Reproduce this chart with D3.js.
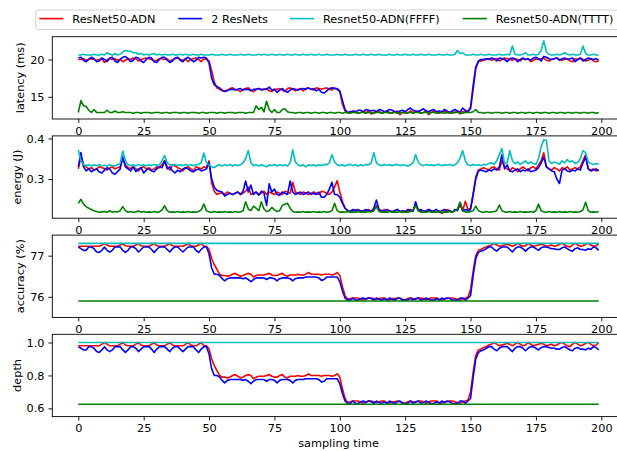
<!DOCTYPE html>
<html><head><meta charset="utf-8">
<script src="https://cdn.jsdelivr.net/npm/d3@7"></script>
<style>
body{margin:0;background:#fff}
svg{display:block}
text{font-family:"DejaVu Sans",sans-serif;fill:#000}
</style>
</head><body>
<svg id="chart" width="617" height="451"></svg>
<script>
const samples = d3.range(200);
const seriesNames = ["ResNet50-ADN","2 ResNets","Resnet50-ADN(FFFF)","Resnet50-ADN(TTTT)"];
const seriesColors = ["#ff0000","#0000ff","#00bfbf","#008000"];
const xTicks = [0,25,50,75,100,125,150,175,200];
const xLabel = "sampling time";

// ---- latency (ms) ----
const latRed = [
20.0,20.0,20.1,19.9,20.0,20.1,20.0,19.9,20.0,20.1, 19.6,20.0,20.1,20.0,20.1,19.9,20.0,19.7,19.9,20.1,
20.0,20.2,20.1,19.8,20.0,20.1,20.2,20.1,20.0,19.8, 19.9,20.1,20.1,20.0,20.1,19.7,20.0,20.1,20.2,20.0,
19.9,20.1,19.7,20.0,20.1,20.2,20.0,19.7,20.1,20.0, 19.8,18.5,17.0,16.2,16.0,15.8,15.8,15.9,16.1,16.2,
16.0,15.9,15.7,16.0,16.1,16.2,15.9,15.7,16.0,16.1, 16.0,16.0,16.1,15.8,15.7,16.0,16.0,16.1,15.9,15.7,
16.1,16.2,16.0,15.8,16.0,16.1,15.8,16.1,16.2,16.0, 15.9,16.2,16.1,16.0,16.1,16.2,16.0,15.9,16.2,16.0,
15.7,14.0,13.1,12.8,12.9,13.0,13.1,12.8,12.9,13.0, 12.9,13.1,12.7,12.9,13.0,13.1,12.8,12.9,13.1,12.9,
12.8,13.0,13.1,12.6,12.9,13.0,12.8,13.1,12.9,13.0, 13.1,12.8,12.9,13.2,12.6,12.9,13.1,13.0,12.8,12.9,
13.1,12.9,12.8,13.0,12.9,13.1,12.7,13.0,13.1,13.0, 13.4,16.0,18.8,19.7,19.8,19.9,20.0,20.1,19.9,20.0,
20.1,19.8,20.0,20.2,20.1,20.0,19.9,20.1,20.0,19.8, 20.1,20.0,20.1,19.7,19.9,20.1,20.0,20.1,20.2,19.9,
19.8,20.0,20.1,20.2,20.0,19.9,20.0,20.1,19.8,19.7, 20.1,20.0,20.2,20.0,19.8,19.9,20.1,19.8,19.7,19.8];
const latBlue = [
20.2,20.3,19.9,19.7,20.0,20.3,20.1,19.7,19.8,20.2, 20.0,19.7,20.2,20.3,19.8,19.6,20.0,20.3,20.4,20.1,
19.7,19.9,20.3,20.2,19.8,19.6,20.0,20.3,20.2,19.7, 19.6,20.0,20.3,20.3,19.9,19.6,19.8,20.2,20.3,19.9,
19.7,20.1,20.3,20.0,19.7,19.9,20.3,20.2,20.3,20.2, 19.5,17.5,16.6,16.4,16.2,15.9,15.7,15.8,16.0,16.0,
15.9,16.0,16.1,15.9,16.0,16.0,15.8,16.0,16.0,16.1, 15.9,16.0,16.0,16.3,15.9,16.0,15.6,15.9,16.1,15.8,
15.6,15.9,16.1,16.0,15.9,16.0,16.1,16.0,16.2,16.0, 16.1,15.8,16.0,15.6,15.5,15.8,16.1,16.2,16.1,16.1,
15.8,14.5,13.3,12.9,13.0,13.1,12.9,13.2,13.2,13.0, 13.3,13.2,13.1,13.2,13.0,13.3,13.2,13.0,13.1,13.3,
13.2,13.0,12.9,13.1,13.2,13.0,13.3,13.5,13.2,13.1, 13.0,13.2,13.4,13.1,13.0,13.2,13.3,13.0,13.1,13.0,
13.3,13.1,12.9,13.1,13.3,13.1,12.9,13.5,13.2,13.0, 13.6,16.5,19.0,19.8,20.0,20.0,20.1,20.0,20.2,20.1,
19.8,20.2,20.1,20.0,19.7,20.1,20.2,20.1,19.7,20.0, 20.2,20.0,20.1,19.9,20.2,20.3,20.1,19.8,20.4,20.3,
20.1,20.0,20.1,20.2,19.9,20.1,20.2,20.0,20.1,20.2, 19.7,20.0,20.2,19.8,20.0,20.2,20.1,20.0,20.1,19.9];
const latFFFF = [
20.6,20.6,20.7,20.6,20.6,20.6,20.7,20.6,20.6,20.7, 20.6,20.9,20.7,20.6,20.8,20.6,20.7,21.0,21.2,21.1,
21.1,20.9,20.9,20.7,20.8,20.6,20.7,20.6,20.7,20.8, 20.6,20.7,20.6,20.7,20.6,20.6,20.7,20.6,20.6,20.7,
20.6,20.7,20.6,20.6,20.7,20.6,20.6,20.7,20.6,20.6, 20.6,20.7,20.6,20.6,20.6,20.7,20.6,20.6,20.7,20.6,
20.6,20.6,20.7,20.6,20.6,20.7,20.6,20.6,20.6,20.7, 20.6,20.7,20.6,20.6,20.7,20.6,20.6,20.7,20.6,20.6,
20.7,20.6,20.6,20.7,20.6,20.6,20.7,20.6,20.6,20.7, 20.6,20.6,20.7,20.6,20.6,20.7,20.6,20.6,20.6,20.7,
20.6,20.6,20.7,20.6,20.6,20.6,20.7,20.6,20.6,20.7, 20.6,20.6,20.7,20.6,20.6,20.7,20.6,20.6,20.6,20.7,
20.6,20.6,20.7,20.6,20.6,20.7,20.6,20.6,20.7,20.6, 20.6,20.7,20.6,20.6,20.7,20.6,20.6,20.6,20.7,20.6,
20.6,20.7,20.6,20.6,20.7,21.2,20.8,20.9,20.6,20.6, 20.6,20.7,20.6,20.6,20.7,20.6,20.6,20.7,20.6,20.6,
20.6,20.7,20.6,20.6,20.7,20.6,21.8,20.7,20.6,20.6, 20.7,20.9,20.6,20.6,20.7,20.6,20.7,21.2,22.5,21.0,
20.7,20.6,20.6,20.7,20.6,20.7,20.9,20.7,20.6,20.7, 20.6,20.6,20.7,21.8,20.8,20.6,20.6,20.7,20.6,20.6];
const latTTTT = [
12.9,14.5,13.8,13.7,13.2,12.9,13.3,12.9,12.9,12.9, 12.9,13.2,12.9,12.9,13.1,12.9,12.9,13.0,12.9,12.9,
12.9,12.8,12.9,12.9,12.8,12.9,12.9,12.9,12.8,12.9, 12.9,12.9,12.8,12.9,12.9,12.8,12.9,12.9,12.9,12.8,
12.9,12.9,12.8,12.9,12.9,12.9,12.8,12.9,12.9,12.8, 12.9,12.9,12.9,12.8,12.9,12.9,12.8,12.9,12.9,12.9,
12.8,12.9,12.9,12.9,12.8,12.9,12.9,12.9,13.8,13.3, 13.6,13.0,14.4,13.3,12.9,13.3,12.9,12.9,13.3,13.4,
13.0,12.9,12.9,12.8,12.9,12.9,12.8,12.9,12.9,12.8, 12.9,12.9,12.8,12.9,12.9,12.8,12.9,12.9,12.8,12.9,
12.9,12.8,12.9,12.9,12.8,12.9,12.9,12.8,12.9,12.9, 12.8,12.9,12.9,12.8,12.9,12.9,12.8,12.9,12.9,12.8,
12.9,12.9,12.8,12.9,12.9,12.8,12.9,12.9,12.8,12.9, 12.9,12.8,12.9,12.9,12.8,12.9,12.9,12.8,12.9,12.9,
12.8,12.9,12.9,12.8,12.9,12.9,12.9,12.8,12.9,12.9, 12.9,13.0,13.3,12.9,12.9,12.8,12.9,12.9,12.8,12.9,
12.9,12.9,12.8,12.9,12.9,12.8,12.9,12.9,12.8,12.9, 12.9,12.8,12.9,12.9,12.8,12.9,12.9,12.8,12.9,12.9,
12.8,12.9,12.9,12.8,12.9,12.9,12.8,12.9,12.9,12.8, 12.9,12.9,12.8,12.9,12.9,12.8,12.9,12.9,12.8,12.9];

// ---- energy (J) ----
const enRed = [
0.325,0.355,0.335,0.330,0.325,0.328,0.322,0.325,0.330,0.328, 0.326,0.322,0.327,0.330,0.325,0.328,0.330,0.350,0.335,0.328,
0.326,0.330,0.325,0.320,0.327,0.330,0.325,0.328,0.322,0.325, 0.330,0.328,0.335,0.345,0.330,0.322,0.335,0.332,0.328,0.325,
0.320,0.328,0.330,0.325,0.320,0.330,0.328,0.325,0.330,0.328, 0.345,0.290,0.270,0.262,0.265,0.265,0.262,0.268,0.265,0.262,
0.265,0.268,0.262,0.265,0.270,0.280,0.262,0.265,0.268,0.262, 0.265,0.270,0.262,0.268,0.265,0.262,0.268,0.265,0.262,0.270,
0.268,0.265,0.292,0.268,0.265,0.262,0.268,0.265,0.262,0.265, 0.268,0.265,0.262,0.270,0.268,0.265,0.262,0.268,0.280,0.296,
0.268,0.245,0.228,0.222,0.220,0.222,0.225,0.220,0.222,0.218, 0.222,0.225,0.220,0.222,0.235,0.222,0.220,0.225,0.218,0.222,
0.220,0.222,0.225,0.220,0.218,0.222,0.220,0.225,0.222,0.238, 0.225,0.220,0.222,0.218,0.225,0.222,0.220,0.218,0.222,0.215,
0.220,0.225,0.222,0.218,0.222,0.225,0.235,0.222,0.245,0.225, 0.228,0.265,0.305,0.322,0.325,0.328,0.325,0.322,0.328,0.330,
0.325,0.322,0.345,0.330,0.325,0.320,0.328,0.325,0.318,0.325, 0.330,0.325,0.320,0.328,0.330,0.325,0.335,0.345,0.365,0.330,
0.325,0.322,0.328,0.325,0.320,0.328,0.325,0.330,0.322,0.325, 0.328,0.325,0.330,0.345,0.360,0.325,0.322,0.325,0.320,0.322];
const enBlue = [
0.330,0.365,0.330,0.320,0.325,0.318,0.322,0.325,0.318,0.315, 0.322,0.328,0.325,0.315,0.312,0.318,0.325,0.355,0.330,0.325,
0.320,0.330,0.318,0.325,0.328,0.315,0.322,0.325,0.320,0.318, 0.325,0.330,0.328,0.345,0.325,0.330,0.320,0.315,0.322,0.318,
0.325,0.328,0.325,0.320,0.318,0.322,0.325,0.320,0.322,0.325, 0.340,0.300,0.280,0.272,0.270,0.268,0.258,0.262,0.265,0.262,
0.265,0.268,0.262,0.270,0.295,0.268,0.285,0.262,0.268,0.260, 0.270,0.265,0.235,0.288,0.268,0.275,0.262,0.260,0.268,0.265,
0.262,0.295,0.268,0.262,0.265,0.268,0.262,0.265,0.268,0.262, 0.265,0.262,0.268,0.255,0.255,0.262,0.275,0.292,0.262,0.262,
0.255,0.240,0.228,0.222,0.220,0.225,0.222,0.225,0.220,0.222, 0.225,0.222,0.220,0.228,0.248,0.225,0.222,0.220,0.225,0.222,
0.218,0.222,0.225,0.220,0.222,0.218,0.225,0.222,0.220,0.244, 0.222,0.225,0.220,0.222,0.225,0.220,0.222,0.225,0.218,0.222,
0.225,0.220,0.222,0.218,0.225,0.222,0.242,0.222,0.225,0.222, 0.225,0.260,0.300,0.320,0.322,0.320,0.318,0.322,0.320,0.325,
0.322,0.330,0.360,0.325,0.335,0.320,0.318,0.322,0.325,0.318, 0.322,0.320,0.325,0.318,0.320,0.322,0.328,0.340,0.354,0.330,
0.325,0.320,0.318,0.300,0.289,0.322,0.325,0.320,0.318,0.322, 0.320,0.325,0.322,0.340,0.354,0.325,0.320,0.322,0.325,0.320];
const enFFFF = [
0.372,0.345,0.335,0.333,0.335,0.332,0.335,0.333,0.335,0.332, 0.334,0.332,0.335,0.333,0.332,0.335,0.338,0.369,0.345,0.335,
0.333,0.335,0.332,0.336,0.333,0.335,0.332,0.335,0.333,0.336, 0.334,0.335,0.345,0.358,0.340,0.335,0.333,0.336,0.334,0.335,
0.333,0.336,0.334,0.335,0.333,0.335,0.336,0.340,0.364,0.340, 0.335,0.330,0.328,0.333,0.335,0.332,0.335,0.333,0.336,0.332,
0.335,0.333,0.335,0.340,0.350,0.370,0.340,0.333,0.335,0.332, 0.335,0.333,0.330,0.335,0.333,0.336,0.332,0.335,0.333,0.335,
0.332,0.340,0.372,0.342,0.335,0.332,0.335,0.330,0.335,0.333, 0.335,0.332,0.335,0.333,0.336,0.335,0.340,0.360,0.342,0.335,
0.333,0.335,0.332,0.335,0.336,0.333,0.335,0.332,0.335,0.333, 0.336,0.335,0.340,0.365,0.340,0.335,0.333,0.336,0.334,0.335,
0.333,0.335,0.336,0.333,0.335,0.334,0.332,0.335,0.340,0.360, 0.342,0.335,0.333,0.336,0.334,0.335,0.333,0.335,0.336,0.333,
0.335,0.334,0.336,0.333,0.335,0.340,0.352,0.370,0.345,0.335, 0.333,0.336,0.334,0.335,0.333,0.336,0.335,0.338,0.340,0.336,
0.345,0.360,0.375,0.338,0.340,0.370,0.345,0.338,0.342,0.336, 0.340,0.345,0.338,0.342,0.338,0.336,0.350,0.380,0.397,0.395,
0.345,0.338,0.342,0.340,0.336,0.345,0.340,0.348,0.342,0.345, 0.338,0.342,0.350,0.370,0.365,0.342,0.338,0.336,0.338,0.337];
const enTTTT = [
0.240,0.250,0.238,0.232,0.228,0.225,0.222,0.220,0.218,0.219, 0.220,0.218,0.222,0.218,0.220,0.219,0.222,0.232,0.222,0.218,
0.220,0.218,0.219,0.221,0.218,0.220,0.218,0.219,0.218,0.220, 0.218,0.219,0.224,0.234,0.222,0.218,0.219,0.218,0.220,0.218,
0.219,0.218,0.220,0.218,0.219,0.218,0.220,0.224,0.238,0.222, 0.219,0.218,0.220,0.218,0.219,0.218,0.220,0.218,0.219,0.218,
0.220,0.218,0.219,0.222,0.244,0.226,0.222,0.233,0.228,0.222, 0.244,0.226,0.220,0.222,0.230,0.224,0.220,0.222,0.235,0.238,
0.240,0.228,0.220,0.218,0.219,0.218,0.220,0.218,0.219,0.218, 0.220,0.218,0.219,0.218,0.220,0.218,0.219,0.222,0.240,0.222,
0.218,0.219,0.218,0.220,0.218,0.219,0.218,0.220,0.218,0.219, 0.218,0.220,0.219,0.222,0.232,0.220,0.218,0.219,0.218,0.220,
0.218,0.219,0.218,0.220,0.218,0.219,0.218,0.220,0.224,0.234, 0.222,0.218,0.219,0.218,0.220,0.218,0.219,0.218,0.220,0.218,
0.219,0.218,0.220,0.218,0.222,0.226,0.243,0.222,0.219,0.218, 0.220,0.222,0.233,0.222,0.219,0.218,0.220,0.218,0.219,0.220,
0.222,0.236,0.222,0.219,0.218,0.220,0.218,0.219,0.218,0.220, 0.218,0.219,0.218,0.220,0.218,0.222,0.238,0.222,0.219,0.218,
0.220,0.218,0.219,0.218,0.220,0.218,0.219,0.218,0.220,0.218, 0.219,0.218,0.220,0.224,0.243,0.222,0.218,0.219,0.218,0.220];

// ---- accuracy (%) ----
const accRed = [
77.23,77.23,77.23,77.23,77.23,77.23,77.23,77.23,77.23,77.26, 77.30,77.26,77.23,77.23,77.23,77.23,77.26,77.30,77.24,77.23,
77.23,77.23,77.26,77.30,77.24,77.23,77.23,77.23,77.26,77.30, 77.24,77.23,77.23,77.23,77.26,77.30,77.24,77.23,77.23,77.23,
77.23,77.26,77.30,77.24,77.23,77.23,77.26,77.30,77.23,77.23, 77.15,76.93,76.78,76.67,76.55,76.52,76.52,76.50,76.52,76.55,
76.57,76.53,76.50,76.52,76.55,76.57,76.55,76.48,76.52,76.53, 76.53,76.53,76.55,76.57,76.53,76.52,76.52,76.55,76.57,76.52,
76.50,76.53,76.53,76.53,76.55,76.53,76.53,76.55,76.59,76.55, 76.55,76.55,76.55,76.53,76.55,76.55,76.55,76.53,76.55,76.59,
76.52,76.25,76.03,75.94,75.96,75.97,75.97,75.97,75.94,75.92, 75.96,75.97,75.97,75.96,75.94,75.96,75.97,75.97,75.94,75.92,
75.96,75.96,75.97,75.96,75.94,75.92,75.96,75.97,75.96,75.94, 75.97,75.97,75.96,75.92,75.96,75.97,75.97,75.97,75.94,75.92,
75.96,75.96,75.97,75.97,75.96,75.94,75.92,75.96,75.97,75.99, 76.18,76.63,77.00,77.13,77.15,77.19,77.21,77.24,77.26,77.30,
77.26,77.23,77.24,77.26,77.28,77.26,77.23,77.26,77.30,77.26, 77.23,77.24,77.30,77.26,77.23,77.24,77.26,77.28,77.26,77.23,
77.24,77.26,77.23,77.24,77.28,77.30,77.26,77.23,77.21,77.26, 77.30,77.26,77.23,77.24,77.28,77.30,77.26,77.23,77.24,77.30];
const accBlue = [
77.21,77.17,77.13,77.13,77.21,77.21,77.17,77.09,77.08,77.13, 77.21,77.13,77.09,77.13,77.21,77.21,77.21,77.13,77.08,77.13,
77.21,77.21,77.17,77.09,77.15,77.21,77.21,77.21,77.15,77.08, 77.15,77.21,77.21,77.21,77.15,77.09,77.17,77.21,77.21,77.15,
77.09,77.15,77.21,77.21,77.21,77.13,77.08,77.15,77.21,77.21, 77.04,76.70,76.55,76.55,76.52,76.44,76.39,76.44,76.46,76.46,
76.46,76.46,76.46,76.44,76.46,76.42,76.37,76.42,76.46,76.46, 76.46,76.46,76.42,76.46,76.46,76.44,76.39,76.44,76.46,76.46,
76.46,76.44,76.39,76.44,76.46,76.46,76.46,76.48,76.48,76.48, 76.48,76.48,76.46,76.40,76.42,76.48,76.48,76.48,76.48,76.48,
76.37,76.14,75.97,75.92,75.92,75.97,75.92,75.92,75.96,75.97, 75.94,75.97,75.96,75.92,75.97,75.94,75.92,75.96,75.92,75.97,
75.94,75.92,75.96,75.97,75.92,75.92,75.92,75.97,75.92,75.96, 75.97,75.92,75.94,75.97,75.94,75.92,75.92,75.96,75.92,75.97,
75.94,75.97,75.96,75.92,75.92,75.92,75.97,75.97,75.92,75.97, 76.03,76.52,76.93,77.08,77.11,77.13,77.17,77.21,77.21,77.15,
77.11,77.17,77.21,77.21,77.21,77.15,77.09,77.17,77.21,77.21, 77.17,77.11,77.17,77.21,77.21,77.17,77.13,77.19,77.21,77.21,
77.19,77.17,77.17,77.15,77.15,77.19,77.21,77.17,77.13,77.11, 77.17,77.19,77.15,77.15,77.13,77.17,77.15,77.21,77.19,77.13];
const accFFFF = [
77.3,77.3,77.3,77.3,77.3,77.3,77.3,77.3,77.3,77.3, 77.3,77.3,77.3,77.3,77.3,77.3,77.3,77.3,77.3,77.3,
77.3,77.3,77.3,77.3,77.3,77.3,77.3,77.3,77.3,77.3, 77.3,77.3,77.3,77.3,77.3,77.3,77.3,77.3,77.3,77.3,
77.3,77.3,77.3,77.3,77.3,77.3,77.3,77.3,77.3,77.3, 77.3,77.3,77.3,77.3,77.3,77.3,77.3,77.3,77.3,77.3,
77.3,77.3,77.3,77.3,77.3,77.3,77.3,77.3,77.3,77.3, 77.3,77.3,77.3,77.3,77.3,77.3,77.3,77.3,77.3,77.3,
77.3,77.3,77.3,77.3,77.3,77.3,77.3,77.3,77.3,77.3, 77.3,77.3,77.3,77.3,77.3,77.3,77.3,77.3,77.3,77.3,
77.3,77.3,77.3,77.3,77.3,77.3,77.3,77.3,77.3,77.3, 77.3,77.3,77.3,77.3,77.3,77.3,77.3,77.3,77.3,77.3,
77.3,77.3,77.3,77.3,77.3,77.3,77.3,77.3,77.3,77.3, 77.3,77.3,77.3,77.3,77.3,77.3,77.3,77.3,77.3,77.3,
77.3,77.3,77.3,77.3,77.3,77.3,77.3,77.3,77.3,77.3, 77.3,77.3,77.3,77.3,77.3,77.3,77.3,77.3,77.3,77.3,
77.3,77.3,77.3,77.3,77.3,77.3,77.3,77.3,77.3,77.3, 77.3,77.3,77.3,77.3,77.3,77.3,77.3,77.3,77.3,77.3,
77.3,77.3,77.3,77.3,77.3,77.3,77.3,77.3,77.3,77.3, 77.3,77.3,77.3,77.3,77.3,77.3,77.3,77.3,77.3,77.3];
const accTTTT = [
75.9,75.9,75.9,75.9,75.9,75.9,75.9,75.9,75.9,75.9, 75.9,75.9,75.9,75.9,75.9,75.9,75.9,75.9,75.9,75.9,
75.9,75.9,75.9,75.9,75.9,75.9,75.9,75.9,75.9,75.9, 75.9,75.9,75.9,75.9,75.9,75.9,75.9,75.9,75.9,75.9,
75.9,75.9,75.9,75.9,75.9,75.9,75.9,75.9,75.9,75.9, 75.9,75.9,75.9,75.9,75.9,75.9,75.9,75.9,75.9,75.9,
75.9,75.9,75.9,75.9,75.9,75.9,75.9,75.9,75.9,75.9, 75.9,75.9,75.9,75.9,75.9,75.9,75.9,75.9,75.9,75.9,
75.9,75.9,75.9,75.9,75.9,75.9,75.9,75.9,75.9,75.9, 75.9,75.9,75.9,75.9,75.9,75.9,75.9,75.9,75.9,75.9,
75.9,75.9,75.9,75.9,75.9,75.9,75.9,75.9,75.9,75.9, 75.9,75.9,75.9,75.9,75.9,75.9,75.9,75.9,75.9,75.9,
75.9,75.9,75.9,75.9,75.9,75.9,75.9,75.9,75.9,75.9, 75.9,75.9,75.9,75.9,75.9,75.9,75.9,75.9,75.9,75.9,
75.9,75.9,75.9,75.9,75.9,75.9,75.9,75.9,75.9,75.9, 75.9,75.9,75.9,75.9,75.9,75.9,75.9,75.9,75.9,75.9,
75.9,75.9,75.9,75.9,75.9,75.9,75.9,75.9,75.9,75.9, 75.9,75.9,75.9,75.9,75.9,75.9,75.9,75.9,75.9,75.9,
75.9,75.9,75.9,75.9,75.9,75.9,75.9,75.9,75.9,75.9, 75.9,75.9,75.9,75.9,75.9,75.9,75.9,75.9,75.9,75.9];

// ---- depth ----
const depRed = [
0.98,0.98,0.98,0.98,0.98,0.98,0.98,0.98,0.98,0.99, 1.0,0.99,0.98,0.98,0.98,0.98,0.99,1.0,0.985,0.98,
0.98,0.98,0.99,1.0,0.985,0.98,0.98,0.98,0.99,1.0, 0.985,0.98,0.98,0.98,0.99,1.0,0.985,0.98,0.98,0.98,
0.98,0.99,1.0,0.985,0.98,0.98,0.99,1.0,0.98,0.98, 0.96,0.90,0.86,0.83,0.80,0.79,0.79,0.785,0.79,0.80,
0.805,0.795,0.785,0.79,0.80,0.805,0.80,0.78,0.79,0.795, 0.795,0.795,0.80,0.805,0.795,0.79,0.79,0.80,0.805,0.79,
0.785,0.795,0.795,0.795,0.80,0.795,0.795,0.80,0.81,0.80, 0.80,0.80,0.80,0.795,0.80,0.80,0.80,0.795,0.80,0.81,
0.79,0.72,0.66,0.635,0.64,0.645,0.645,0.645,0.635,0.63, 0.64,0.645,0.645,0.64,0.635,0.64,0.645,0.645,0.635,0.63,
0.64,0.64,0.645,0.64,0.635,0.63,0.64,0.645,0.64,0.635, 0.645,0.645,0.64,0.63,0.64,0.645,0.645,0.645,0.635,0.63,
0.64,0.64,0.645,0.645,0.64,0.635,0.63,0.64,0.645,0.65, 0.70,0.82,0.92,0.955,0.96,0.97,0.975,0.985,0.99,1.0,
0.99,0.98,0.985,0.99,0.995,0.99,0.98,0.99,1.0,0.99, 0.98,0.985,1.0,0.99,0.98,0.985,0.99,0.995,0.99,0.98,
0.985,0.99,0.98,0.985,0.995,1.0,0.99,0.98,0.975,0.99, 1.0,0.99,0.98,0.985,0.995,1.0,0.99,0.98,0.985,1.0];
const depBlue = [
0.975,0.965,0.955,0.955,0.975,0.975,0.965,0.945,0.94,0.955, 0.975,0.955,0.945,0.955,0.975,0.975,0.975,0.955,0.94,0.955,
0.975,0.975,0.965,0.945,0.96,0.975,0.975,0.975,0.96,0.94, 0.96,0.975,0.975,0.975,0.96,0.945,0.965,0.975,0.975,0.96,
0.945,0.96,0.975,0.975,0.975,0.955,0.94,0.96,0.975,0.975, 0.93,0.84,0.80,0.80,0.79,0.77,0.755,0.77,0.775,0.775,
0.775,0.775,0.775,0.77,0.775,0.765,0.75,0.765,0.775,0.775, 0.775,0.775,0.765,0.775,0.775,0.77,0.755,0.77,0.775,0.775,
0.775,0.77,0.755,0.77,0.775,0.775,0.775,0.78,0.78,0.78, 0.78,0.78,0.775,0.76,0.765,0.78,0.78,0.78,0.78,0.78,
0.75,0.69,0.645,0.63,0.63,0.645,0.63,0.63,0.64,0.645, 0.635,0.645,0.64,0.63,0.645,0.635,0.63,0.64,0.63,0.645,
0.635,0.63,0.64,0.645,0.63,0.63,0.63,0.645,0.63,0.64, 0.645,0.63,0.635,0.645,0.635,0.63,0.63,0.64,0.63,0.645,
0.635,0.645,0.64,0.63,0.63,0.63,0.645,0.645,0.63,0.645, 0.66,0.79,0.90,0.94,0.95,0.955,0.965,0.975,0.975,0.96,
0.95,0.965,0.975,0.975,0.975,0.96,0.945,0.965,0.975,0.975, 0.965,0.95,0.965,0.975,0.975,0.965,0.955,0.97,0.975,0.975,
0.97,0.965,0.965,0.96,0.96,0.97,0.975,0.965,0.955,0.95, 0.965,0.97,0.96,0.96,0.955,0.965,0.96,0.975,0.97,0.955];
const depFFFF = [
1.0,1.0,1.0,1.0,1.0,1.0,1.0,1.0,1.0,1.0, 1.0,1.0,1.0,1.0,1.0,1.0,1.0,1.0,1.0,1.0,
1.0,1.0,1.0,1.0,1.0,1.0,1.0,1.0,1.0,1.0, 1.0,1.0,1.0,1.0,1.0,1.0,1.0,1.0,1.0,1.0,
1.0,1.0,1.0,1.0,1.0,1.0,1.0,1.0,1.0,1.0, 1.0,1.0,1.0,1.0,1.0,1.0,1.0,1.0,1.0,1.0,
1.0,1.0,1.0,1.0,1.0,1.0,1.0,1.0,1.0,1.0, 1.0,1.0,1.0,1.0,1.0,1.0,1.0,1.0,1.0,1.0,
1.0,1.0,1.0,1.0,1.0,1.0,1.0,1.0,1.0,1.0, 1.0,1.0,1.0,1.0,1.0,1.0,1.0,1.0,1.0,1.0,
1.0,1.0,1.0,1.0,1.0,1.0,1.0,1.0,1.0,1.0, 1.0,1.0,1.0,1.0,1.0,1.0,1.0,1.0,1.0,1.0,
1.0,1.0,1.0,1.0,1.0,1.0,1.0,1.0,1.0,1.0, 1.0,1.0,1.0,1.0,1.0,1.0,1.0,1.0,1.0,1.0,
1.0,1.0,1.0,1.0,1.0,1.0,1.0,1.0,1.0,1.0, 1.0,1.0,1.0,1.0,1.0,1.0,1.0,1.0,1.0,1.0,
1.0,1.0,1.0,1.0,1.0,1.0,1.0,1.0,1.0,1.0, 1.0,1.0,1.0,1.0,1.0,1.0,1.0,1.0,1.0,1.0,
1.0,1.0,1.0,1.0,1.0,1.0,1.0,1.0,1.0,1.0, 1.0,1.0,1.0,1.0,1.0,1.0,1.0,1.0,1.0,1.0];
const depTTTT = [
0.625,0.625,0.625,0.625,0.625,0.625,0.625,0.625,0.625,0.625, 0.625,0.625,0.625,0.625,0.625,0.625,0.625,0.625,0.625,0.625,
0.625,0.625,0.625,0.625,0.625,0.625,0.625,0.625,0.625,0.625, 0.625,0.625,0.625,0.625,0.625,0.625,0.625,0.625,0.625,0.625,
0.625,0.625,0.625,0.625,0.625,0.625,0.625,0.625,0.625,0.625, 0.625,0.625,0.625,0.625,0.625,0.625,0.625,0.625,0.625,0.625,
0.625,0.625,0.625,0.625,0.625,0.625,0.625,0.625,0.625,0.625, 0.625,0.625,0.625,0.625,0.625,0.625,0.625,0.625,0.625,0.625,
0.625,0.625,0.625,0.625,0.625,0.625,0.625,0.625,0.625,0.625, 0.625,0.625,0.625,0.625,0.625,0.625,0.625,0.625,0.625,0.625,
0.625,0.625,0.625,0.625,0.625,0.625,0.625,0.625,0.625,0.625, 0.625,0.625,0.625,0.625,0.625,0.625,0.625,0.625,0.625,0.625,
0.625,0.625,0.625,0.625,0.625,0.625,0.625,0.625,0.625,0.625, 0.625,0.625,0.625,0.625,0.625,0.625,0.625,0.625,0.625,0.625,
0.625,0.625,0.625,0.625,0.625,0.625,0.625,0.625,0.625,0.625, 0.625,0.625,0.625,0.625,0.625,0.625,0.625,0.625,0.625,0.625,
0.625,0.625,0.625,0.625,0.625,0.625,0.625,0.625,0.625,0.625, 0.625,0.625,0.625,0.625,0.625,0.625,0.625,0.625,0.625,0.625,
0.625,0.625,0.625,0.625,0.625,0.625,0.625,0.625,0.625,0.625, 0.625,0.625,0.625,0.625,0.625,0.625,0.625,0.625,0.625,0.625];

const latTicks = [15, 20];
const enTicks = [0.3, 0.4];
const accTicks = [76, 77];
const depTicks = [0.6, 0.8, 1.0];

// ---------- drawing ----------
const svg = d3.select("#chart");
const FS = 11.3;
const left = 52.3, right = 624.7;
const panelH = 82.3;
const x = d3.scaleLinear().domain([-9.95, 208.95]).range([left, right]);

const panels = [
  {label:"latency (ms)", series:[latRed,latBlue,latFFFF,latTTTT], domain:[12.03,23.05], ticks:latTicks, fmt:d3.format("d"), top:36.7, lx:24},
  {label:"energy (J)", series:[enRed,enBlue,enFFFF,enTTTT], domain:[0.2034,0.4063], ticks:enTicks, fmt:d3.format(".1f"), top:135.9, lx:20.5},
  {label:"accuracy (%)", series:[accRed,accBlue,accFFFF,accTTTT], domain:[75.5,77.5], ticks:accTicks, fmt:d3.format("d"), top:235.1, lx:24},
  {label:"depth", series:[depRed,depBlue,depFFFF,depTTTT], domain:[0.55,1.05], ticks:depTicks, fmt:d3.format(".1f"), top:334.3, lx:20.5}
];

panels.forEach(p => {
  const y = d3.scaleLinear().domain(p.domain).range([p.top + panelH, p.top]);
  const g = svg.append("g");
  const line = d3.line().x((d,i) => x(samples[i])).y(d => y(d));
  p.series.forEach((s, k) => {
    g.append("path").datum(s).attr("d", line)
      .attr("fill","none").attr("stroke", seriesColors[k])
      .attr("stroke-width",1.6).attr("stroke-linejoin","round");
  });
  // frame
  g.append("rect").attr("x",left).attr("y",p.top).attr("width",right-left).attr("height",panelH)
    .attr("fill","none").attr("stroke","#000").attr("stroke-width",0.9);
  // x axis
  const xa = g.append("g").attr("transform",`translate(0,${p.top+panelH})`)
    .call(d3.axisBottom(x).tickValues(xTicks).tickSize(3.9).tickPadding(3.6).tickFormat(d3.format("d")));
  xa.select(".domain").remove();
  xa.selectAll("line").attr("stroke","#000").attr("stroke-width",0.9);
  xa.selectAll("text").attr("font-size",FS).attr("font-family","DejaVu Sans").attr("fill","#000");
  // y axis
  const ya = g.append("g").attr("transform",`translate(${left},0)`)
    .call(d3.axisLeft(y).tickValues(p.ticks).tickSize(3.9).tickPadding(3.9).tickFormat(p.fmt));
  ya.select(".domain").remove();
  ya.selectAll("line").attr("stroke","#000").attr("stroke-width",0.9);
  ya.selectAll("text").attr("font-size",FS).attr("font-family","DejaVu Sans").attr("fill","#000");
  // y label
  svg.append("text").attr("transform",`translate(${p.lx},${p.top+panelH/2}) rotate(-90)`)
    .attr("text-anchor","middle").attr("font-size",FS).text(p.label);
});

// x label
svg.append("text").attr("x",(left+right)/2).attr("y",446.5).attr("text-anchor","middle")
  .attr("font-size",FS).text(xLabel);

// legend
const lg = svg.append("g");
lg.append("rect").attr("x",35.7).attr("y",10).attr("width",600).attr("height",19.5)
  .attr("rx",2.5).attr("fill","#fff").attr("fill-opacity",0.8).attr("stroke","#cccccc").attr("stroke-width",0.9);
const legendX = [39.3, 178.3, 290, 462.7];
seriesNames.forEach((n,k) => {
  lg.append("line").attr("x1",legendX[k]).attr("x2",legendX[k]+24).attr("y1",18.6).attr("y2",18.6)
    .attr("stroke",seriesColors[k]).attr("stroke-width",1.6);
  lg.append("text").attr("x",legendX[k]+33).attr("y",22.7).attr("font-size",FS).text(n);
});
</script>
</body></html>
